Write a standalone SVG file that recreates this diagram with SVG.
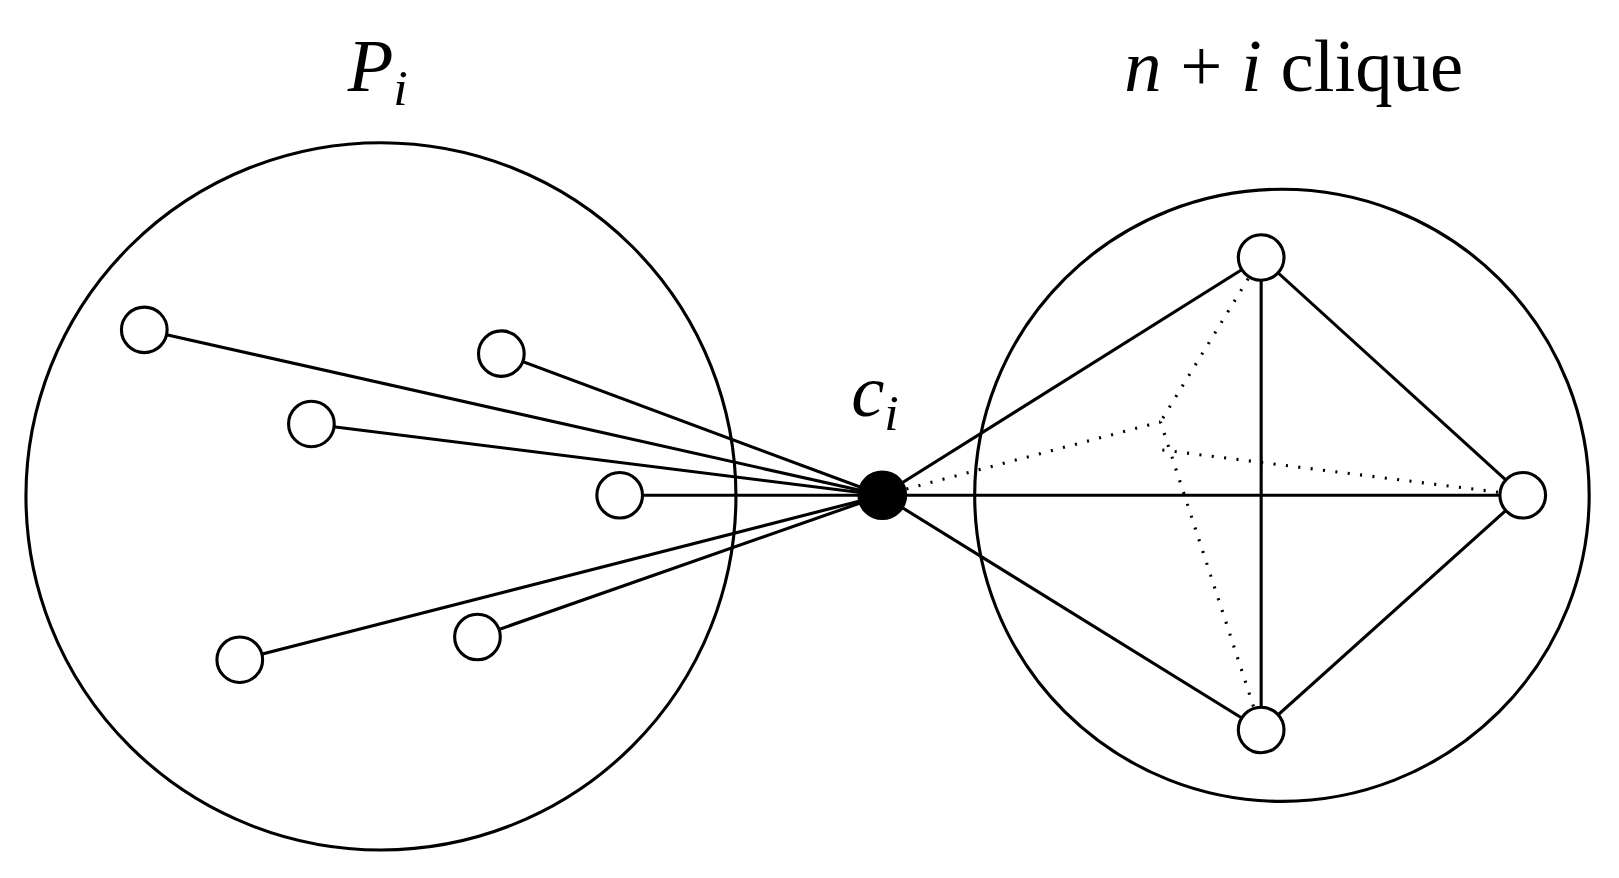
<svg xmlns="http://www.w3.org/2000/svg" width="1619" height="878" viewBox="0 0 1619 878">
<style>
.b{fill:none;stroke:#000;stroke-width:3}
.n{fill:#fff;stroke:#000;stroke-width:3}
.e{stroke:#000;stroke-width:3}
.d{stroke:#000;stroke-width:3;stroke-dasharray:2 10}
text{font-family:"Liberation Serif",serif;font-size:72px;fill:#000}
</style>
<rect width="1619" height="878" fill="#fff"/>
<g transform="scale(1.038,1.034)">
<g id="regionP"><circle class="b" cx="367" cy="480" r="342"/></g>
<g id="regionClique"><circle class="b" cx="1235" cy="479" r="296"/></g>
<g id="connectors">
<line class="e" x1="139" y1="319" x2="850" y2="479"/>
<line class="e" x1="483" y1="342" x2="850" y2="479"/>
<line class="e" x1="300" y1="410" x2="850" y2="479"/>
<line class="e" x1="597" y1="479" x2="850" y2="479"/>
<line class="e" x1="231" y1="638" x2="850" y2="479"/>
<line class="e" x1="460" y1="616" x2="850" y2="479"/>
<line class="e" x1="850" y1="479" x2="1215" y2="249"/>
<line class="e" x1="850" y1="479" x2="1467" y2="479"/>
<line class="e" x1="850" y1="479" x2="1215" y2="706"/>
<line class="e" x1="1215" y1="249" x2="1215" y2="706"/>
<line class="e" x1="1215" y1="249" x2="1467" y2="479"/>
<line class="e" x1="1467" y1="479" x2="1215" y2="706"/>
<line class="d" x1="850" y1="479" x2="1118" y2="408"/>
<line class="d" x1="1215" y1="249" x2="1118" y2="408"/>
<line class="d" x1="1215" y1="706" x2="1118" y2="408"/>
<line class="d" x1="1467" y1="479" x2="1118" y2="435"/>
</g>
<g id="p1"><circle class="n" cx="139" cy="319" r="22"/></g>
<g id="p2"><circle class="n" cx="483" cy="342" r="22"/></g>
<g id="p3"><circle class="n" cx="300" cy="410" r="22"/></g>
<g id="p4"><circle class="n" cx="597" cy="479" r="22"/></g>
<g id="p5"><circle class="n" cx="231" cy="638" r="22"/></g>
<g id="p6"><circle class="n" cx="460" cy="616" r="22"/></g>
<g id="ci"><circle cx="850" cy="479" r="24" fill="#000"/></g>
<g id="k1"><circle class="n" cx="1215" cy="249" r="22"/></g>
<g id="k2"><circle class="n" cx="1467" cy="479" r="22"/></g>
<g id="k3"><circle class="n" cx="1215" cy="706" r="22"/></g>
<g id="labels">
<text x="335" y="88" font-style="italic">P<tspan font-size="50" dy="14">i</tspan></text>
<text x="820" y="402" font-style="italic">c<tspan font-size="50" dy="14">i</tspan></text>
<text x="1083" y="88"><tspan font-style="italic">n</tspan> + <tspan font-style="italic">i</tspan> clique</text>
</g>
</g>
</svg>
